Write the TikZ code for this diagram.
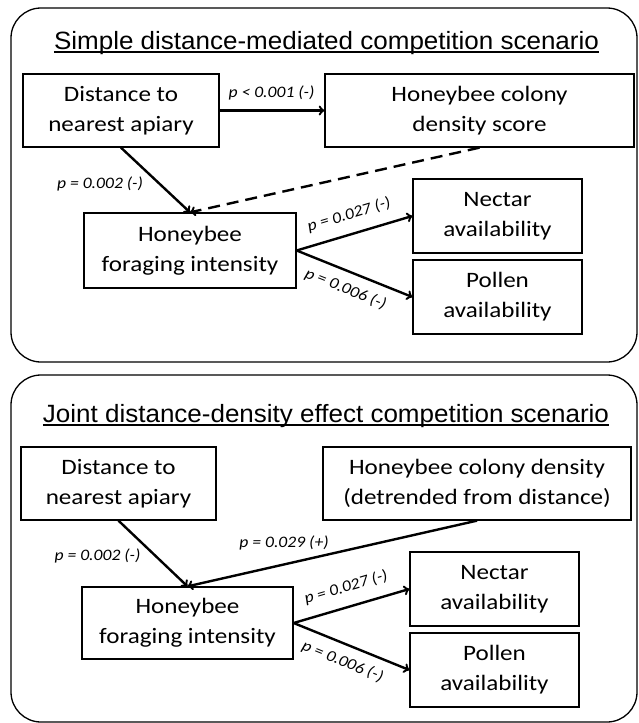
\documentclass[tikz,border=0pt]{standalone}
\usepackage{fontspec}
\usepackage{tikz}
\newfontfamily\boxfont{Carlito}[FakeStretch=1.14]
\newfontfamily\labfont{Carlito}[FakeStretch=1.1]
\newfontfamily\titlefont{Liberation Sans}[FakeStretch=1.04]

\begin{document}
\begin{tikzpicture}[x=1pt, y=-1pt,
    varbox/.style={draw, line width=1.3pt, align=center, inner sep=0pt, font=\boxfont\fontsize{22}{30}\selectfont},
    plabel/.style={font=\labfont\itshape\fontsize{16}{18}\selectfont, inner sep=2pt},
    link/.style={->, line width=2.4pt},
    panel/.style={draw, line width=1.3pt, rounded corners=30pt},
    heading/.style={font=\titlefont\fontsize{25}{30}\selectfont, inner sep=0pt, anchor=base}]
    \useasboundingbox (0,0) rectangle (638,723);

    % simple scenario
    \draw[panel] (11,8) rectangle (637,362);
    \node[heading] (t1) at (326.5,49) {Simple distance-mediated competition scenario};
    \draw[line width=1.2pt] ([yshift=-3pt]t1.base west) -- ([yshift=-3pt]t1.base east);

    \node[varbox, minimum width=196pt, minimum height=73pt] (dist1) at (121,110.5) {Distance to\\nearest apiary};
    \node[varbox, minimum width=309pt, minimum height=73pt] (dens1) at (479.5,110.5) {Honeybee colony\\density score};
    \node[varbox, minimum width=212pt, minimum height=75pt] (forag1) at (190,250.5) {Honeybee\\foraging intensity};
    \node[varbox, minimum width=169pt, minimum height=74pt] (nect1) at (497.5,216) {Nectar\\availability};
    \node[varbox, minimum width=169pt, minimum height=74pt] (poll1) at (497.5,297) {Pollen\\availability};

    \draw[link] (dist1) -- (dens1);
    \node[plabel, anchor=base] (l1a) at (271.5,97) {p < 0.001 (-)};
    \draw[link] (dist1.south) -- (forag1.north);
    \node[plabel, anchor=base] (l1b) at (100,188) {p = 0.002 (-)};
    \draw[link, dash pattern=on 12pt off 7pt] (dens1.south) -- (forag1.north);
    \draw[link] (forag1.east) -- node[plabel, sloped, above=9pt, pos=0.5] {p = 0.027 (-)} (nect1.west);
    \draw[link] (forag1.east) -- node[plabel, sloped, below=7pt, pos=0.48] {p = 0.006 (-)} (poll1.west);

    % joint scenario
    \draw[panel] (11,375) rectangle (637,722);
    \node[heading] (t2) at (326,422) {Joint distance-density effect competition scenario};
    \draw[line width=1.2pt] ([yshift=-3pt]t2.base west) -- ([yshift=-3pt]t2.base east);

    \node[varbox, minimum width=195pt, minimum height=73pt] (dist2) at (118.5,483.5) {Distance to\\nearest apiary};
    \node[varbox, minimum width=308pt, minimum height=73pt] (dens2) at (477,483.5) {Honeybee colony density\\(detrended from distance)};
    \node[varbox, minimum width=211pt, minimum height=72pt] (forag2) at (187.5,623) {Honeybee\\foraging intensity};
    \node[varbox, minimum width=169pt, minimum height=74pt] (nect2) at (494.5,589) {Nectar\\availability};
    \node[varbox, minimum width=169pt, minimum height=74pt] (poll2) at (494.5,670) {Pollen\\availability};

    \draw[link] (dist2.south) -- (forag2.north);
    \node[plabel, anchor=base] (l2a) at (97.5,560) {p = 0.002 (-)};
    \draw[link] (dens2.south) -- (forag2.north);
    \node[plabel, anchor=base] (l2b) at (284,547) {p = 0.029 (+)};
    \draw[link] (forag2.east) -- node[plabel, sloped, above=9pt, pos=0.5] {p = 0.027 (-)} (nect2.west);
    \draw[link] (forag2.east) -- node[plabel, sloped, below=7pt, pos=0.48] {p = 0.006 (-)} (poll2.west);
\end{tikzpicture}
\end{document}
